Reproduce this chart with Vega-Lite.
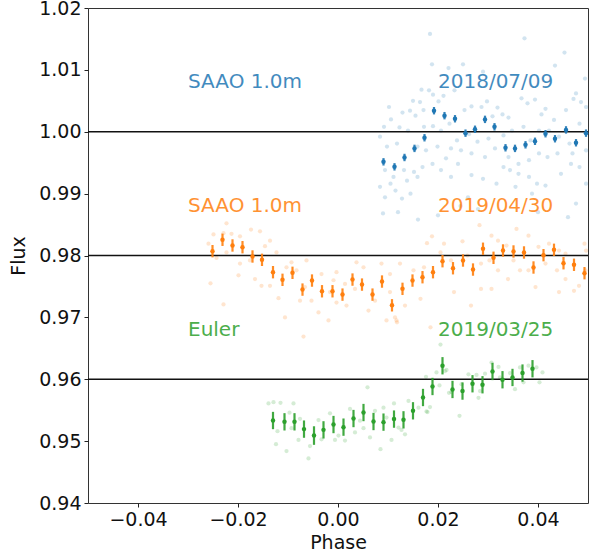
{
  "$schema": "https://vega.github.io/schema/vega-lite/v6.json",
  "width": 500,
  "height": 495,
  "autosize": "none",
  "padding": {"left": 88, "top": 8, "right": 2, "bottom": 57},
  "background": "white",
  "config": {
    "font": "DejaVu Sans",
    "view": {"stroke": "#333333", "strokeWidth": 1},
    "axis": {"domain": false, "grid": false, "tickColor": "#222222", "tickSize": 4, "labelPadding": 3, "labelFontSize": 19, "labelColor": "#111111", "titleFontSize": 19, "titleFontWeight": "normal", "titleColor": "#111111", "labelFont": "DejaVu Sans", "titleFont": "DejaVu Sans"}
  },
  "datasets": {
    "binned": [
      {"s": "SAAO 2018/07/09", "p": 0.0091, "f": 0.99514, "e": 0.0006},
      {"s": "SAAO 2018/07/09", "p": 0.0113, "f": 0.99433, "e": 0.0006},
      {"s": "SAAO 2018/07/09", "p": 0.0133, "f": 0.99584, "e": 0.0006},
      {"s": "SAAO 2018/07/09", "p": 0.0153, "f": 0.99731, "e": 0.0006},
      {"s": "SAAO 2018/07/09", "p": 0.0173, "f": 0.99903, "e": 0.0006},
      {"s": "SAAO 2018/07/09", "p": 0.0192, "f": 1.0034, "e": 0.0006},
      {"s": "SAAO 2018/07/09", "p": 0.0213, "f": 1.0026, "e": 0.0006},
      {"s": "SAAO 2018/07/09", "p": 0.0234, "f": 1.0021, "e": 0.0006},
      {"s": "SAAO 2018/07/09", "p": 0.0255, "f": 0.99977, "e": 0.0006},
      {"s": "SAAO 2018/07/09", "p": 0.0274, "f": 1.0004, "e": 0.0006},
      {"s": "SAAO 2018/07/09", "p": 0.0294, "f": 1.0020, "e": 0.0006},
      {"s": "SAAO 2018/07/09", "p": 0.0313, "f": 1.0008, "e": 0.0006},
      {"s": "SAAO 2018/07/09", "p": 0.0335, "f": 0.99741, "e": 0.0006},
      {"s": "SAAO 2018/07/09", "p": 0.0354, "f": 0.99731, "e": 0.0006},
      {"s": "SAAO 2018/07/09", "p": 0.0375, "f": 0.99789, "e": 0.0006},
      {"s": "SAAO 2018/07/09", "p": 0.0394, "f": 0.99846, "e": 0.0006},
      {"s": "SAAO 2018/07/09", "p": 0.0415, "f": 0.99968, "e": 0.0006},
      {"s": "SAAO 2018/07/09", "p": 0.0434, "f": 0.99887, "e": 0.0006},
      {"s": "SAAO 2018/07/09", "p": 0.0456, "f": 1.0003, "e": 0.0006},
      {"s": "SAAO 2018/07/09", "p": 0.0476, "f": 0.99822, "e": 0.0006},
      {"s": "SAAO 2018/07/09", "p": 0.0496, "f": 0.99977, "e": 0.0006},
      {"s": "SAAO 2019/04/30", "p": -0.0251, "f": 0.98070, "e": 0.001},
      {"s": "SAAO 2019/04/30", "p": -0.0231, "f": 0.98254, "e": 0.001},
      {"s": "SAAO 2019/04/30", "p": -0.0211, "f": 0.98162, "e": 0.001},
      {"s": "SAAO 2019/04/30", "p": -0.0191, "f": 0.98134, "e": 0.001},
      {"s": "SAAO 2019/04/30", "p": -0.0171, "f": 0.97984, "e": 0.001},
      {"s": "SAAO 2019/04/30", "p": -0.0152, "f": 0.97930, "e": 0.001},
      {"s": "SAAO 2019/04/30", "p": -0.0130, "f": 0.97730, "e": 0.001},
      {"s": "SAAO 2019/04/30", "p": -0.0111, "f": 0.97607, "e": 0.001},
      {"s": "SAAO 2019/04/30", "p": -0.0091, "f": 0.97720, "e": 0.001},
      {"s": "SAAO 2019/04/30", "p": -0.0071, "f": 0.97449, "e": 0.001},
      {"s": "SAAO 2019/04/30", "p": -0.0052, "f": 0.97595, "e": 0.001},
      {"s": "SAAO 2019/04/30", "p": -0.0032, "f": 0.97422, "e": 0.001},
      {"s": "SAAO 2019/04/30", "p": -0.0011, "f": 0.97422, "e": 0.001},
      {"s": "SAAO 2019/04/30", "p": 0.0009, "f": 0.97368, "e": 0.001},
      {"s": "SAAO 2019/04/30", "p": 0.0029, "f": 0.97611, "e": 0.001},
      {"s": "SAAO 2019/04/30", "p": 0.0048, "f": 0.97530, "e": 0.001},
      {"s": "SAAO 2019/04/30", "p": 0.0069, "f": 0.97368, "e": 0.001},
      {"s": "SAAO 2019/04/30", "p": 0.0088, "f": 0.97579, "e": 0.001},
      {"s": "SAAO 2019/04/30", "p": 0.0108, "f": 0.97195, "e": 0.001},
      {"s": "SAAO 2019/04/30", "p": 0.0129, "f": 0.97461, "e": 0.001},
      {"s": "SAAO 2019/04/30", "p": 0.0149, "f": 0.97595, "e": 0.001},
      {"s": "SAAO 2019/04/30", "p": 0.0169, "f": 0.97649, "e": 0.001},
      {"s": "SAAO 2019/04/30", "p": 0.0190, "f": 0.97730, "e": 0.001},
      {"s": "SAAO 2019/04/30", "p": 0.0209, "f": 0.97908, "e": 0.001},
      {"s": "SAAO 2019/04/30", "p": 0.0230, "f": 0.97794, "e": 0.001},
      {"s": "SAAO 2019/04/30", "p": 0.0250, "f": 0.97919, "e": 0.001},
      {"s": "SAAO 2019/04/30", "p": 0.0270, "f": 0.97773, "e": 0.001},
      {"s": "SAAO 2019/04/30", "p": 0.0290, "f": 0.98109, "e": 0.001},
      {"s": "SAAO 2019/04/30", "p": 0.0311, "f": 0.97963, "e": 0.001},
      {"s": "SAAO 2019/04/30", "p": 0.0330, "f": 0.98081, "e": 0.001},
      {"s": "SAAO 2019/04/30", "p": 0.0351, "f": 0.98065, "e": 0.001},
      {"s": "SAAO 2019/04/30", "p": 0.0372, "f": 0.98049, "e": 0.001},
      {"s": "SAAO 2019/04/30", "p": 0.0391, "f": 0.97806, "e": 0.001},
      {"s": "SAAO 2019/04/30", "p": 0.0411, "f": 0.98005, "e": 0.001},
      {"s": "SAAO 2019/04/30", "p": 0.0432, "f": 0.98092, "e": 0.001},
      {"s": "SAAO 2019/04/30", "p": 0.0451, "f": 0.97875, "e": 0.001},
      {"s": "SAAO 2019/04/30", "p": 0.0472, "f": 0.97850, "e": 0.001},
      {"s": "SAAO 2019/04/30", "p": 0.0493, "f": 0.97714, "e": 0.001},
      {"s": "Euler 2019/03/25", "p": -0.0130, "f": 0.95333, "e": 0.0014},
      {"s": "Euler 2019/03/25", "p": -0.0107, "f": 0.95312, "e": 0.0014},
      {"s": "Euler 2019/03/25", "p": -0.0087, "f": 0.95312, "e": 0.0014},
      {"s": "Euler 2019/03/25", "p": -0.0068, "f": 0.95194, "e": 0.0014},
      {"s": "Euler 2019/03/25", "p": -0.0048, "f": 0.95090, "e": 0.0015},
      {"s": "Euler 2019/03/25", "p": -0.0029, "f": 0.95182, "e": 0.0014},
      {"s": "Euler 2019/03/25", "p": -0.0009, "f": 0.95268, "e": 0.0014},
      {"s": "Euler 2019/03/25", "p": 0.0011, "f": 0.95226, "e": 0.0014},
      {"s": "Euler 2019/03/25", "p": 0.0031, "f": 0.95365, "e": 0.0014},
      {"s": "Euler 2019/03/25", "p": 0.0051, "f": 0.95462, "e": 0.0014},
      {"s": "Euler 2019/03/25", "p": 0.0071, "f": 0.95317, "e": 0.0014},
      {"s": "Euler 2019/03/25", "p": 0.0091, "f": 0.95307, "e": 0.0014},
      {"s": "Euler 2019/03/25", "p": 0.0112, "f": 0.95356, "e": 0.0014},
      {"s": "Euler 2019/03/25", "p": 0.0131, "f": 0.95344, "e": 0.0014},
      {"s": "Euler 2019/03/25", "p": 0.0150, "f": 0.95490, "e": 0.0014},
      {"s": "Euler 2019/03/25", "p": 0.0170, "f": 0.95705, "e": 0.0014},
      {"s": "Euler 2019/03/25", "p": 0.0189, "f": 0.95883, "e": 0.0014},
      {"s": "Euler 2019/03/25", "p": 0.0209, "f": 0.96218, "e": 0.0014},
      {"s": "Euler 2019/03/25", "p": 0.0229, "f": 0.95835, "e": 0.0014},
      {"s": "Euler 2019/03/25", "p": 0.0249, "f": 0.95809, "e": 0.0014},
      {"s": "Euler 2019/03/25", "p": 0.0269, "f": 0.95927, "e": 0.0014},
      {"s": "Euler 2019/03/25", "p": 0.0289, "f": 0.95911, "e": 0.0014},
      {"s": "Euler 2019/03/25", "p": 0.0309, "f": 0.96126, "e": 0.0014},
      {"s": "Euler 2019/03/25", "p": 0.0329, "f": 0.95992, "e": 0.0014},
      {"s": "Euler 2019/03/25", "p": 0.0349, "f": 0.96029, "e": 0.0014},
      {"s": "Euler 2019/03/25", "p": 0.0369, "f": 0.96100, "e": 0.0014},
      {"s": "Euler 2019/03/25", "p": 0.0389, "f": 0.96170, "e": 0.0014}
    ],
    "raw": [
      {"s": "SAAO 2018/07/09", "p": 0.0184, "f": 1.0158},
      {"s": "SAAO 2018/07/09", "p": 0.0373, "f": 1.0151},
      {"s": "SAAO 2018/07/09", "p": 0.0453, "f": 1.0128},
      {"s": "SAAO 2018/07/09", "p": 0.0188, "f": 1.0109},
      {"s": "SAAO 2018/07/09", "p": 0.0250, "f": 1.0109},
      {"s": "SAAO 2018/07/09", "p": 0.0434, "f": 1.0107},
      {"s": "SAAO 2018/07/09", "p": 0.0221, "f": 1.0103},
      {"s": "SAAO 2018/07/09", "p": 0.0290, "f": 1.0097},
      {"s": "SAAO 2018/07/09", "p": 0.0494, "f": 1.0086},
      {"s": "SAAO 2018/07/09", "p": 0.0167, "f": 1.0068},
      {"s": "SAAO 2018/07/09", "p": 0.0182, "f": 1.0067},
      {"s": "SAAO 2018/07/09", "p": 0.0233, "f": 1.0067},
      {"s": "SAAO 2018/07/09", "p": 0.0476, "f": 1.0062},
      {"s": "SAAO 2018/07/09", "p": 0.0150, "f": 1.0050},
      {"s": "SAAO 2018/07/09", "p": 0.0164, "f": 1.0048},
      {"s": "SAAO 2018/07/09", "p": 0.0201, "f": 1.0049},
      {"s": "SAAO 2018/07/09", "p": 0.0190, "f": 1.0060},
      {"s": "SAAO 2018/07/09", "p": 0.0211, "f": 1.0058},
      {"s": "SAAO 2018/07/09", "p": 0.0102, "f": 1.0040},
      {"s": "SAAO 2018/07/09", "p": 0.0129, "f": 1.0031},
      {"s": "SAAO 2018/07/09", "p": 0.0144, "f": 1.0034},
      {"s": "SAAO 2018/07/09", "p": 0.0155, "f": 1.0026},
      {"s": "SAAO 2018/07/09", "p": 0.0171, "f": 1.0035},
      {"s": "SAAO 2018/07/09", "p": 0.0253, "f": 1.0035},
      {"s": "SAAO 2018/07/09", "p": 0.0267, "f": 1.0041},
      {"s": "SAAO 2018/07/09", "p": 0.0287, "f": 1.0040},
      {"s": "SAAO 2018/07/09", "p": 0.0298, "f": 1.0049},
      {"s": "SAAO 2018/07/09", "p": 0.0319, "f": 1.0039},
      {"s": "SAAO 2018/07/09", "p": 0.0309, "f": 1.0025},
      {"s": "SAAO 2018/07/09", "p": 0.0329, "f": 1.0028},
      {"s": "SAAO 2018/07/09", "p": 0.0341, "f": 1.0023},
      {"s": "SAAO 2018/07/09", "p": 0.0367, "f": 1.0054},
      {"s": "SAAO 2018/07/09", "p": 0.0379, "f": 1.0046},
      {"s": "SAAO 2018/07/09", "p": 0.0394, "f": 1.0052},
      {"s": "SAAO 2018/07/09", "p": 0.0407, "f": 1.0028},
      {"s": "SAAO 2018/07/09", "p": 0.0415, "f": 1.0037},
      {"s": "SAAO 2018/07/09", "p": 0.0432, "f": 1.0019},
      {"s": "SAAO 2018/07/09", "p": 0.0456, "f": 1.0035},
      {"s": "SAAO 2018/07/09", "p": 0.0471, "f": 1.0053},
      {"s": "SAAO 2018/07/09", "p": 0.0486, "f": 1.0048},
      {"s": "SAAO 2018/07/09", "p": 0.0496, "f": 1.0040},
      {"s": "SAAO 2018/07/09", "p": 0.0092, "f": 1.0008},
      {"s": "SAAO 2018/07/09", "p": 0.0106, "f": 1.0020},
      {"s": "SAAO 2018/07/09", "p": 0.0123, "f": 1.0007},
      {"s": "SAAO 2018/07/09", "p": 0.0140, "f": 1.0002},
      {"s": "SAAO 2018/07/09", "p": 0.0172, "f": 1.0008},
      {"s": "SAAO 2018/07/09", "p": 0.0190, "f": 1.0009},
      {"s": "SAAO 2018/07/09", "p": 0.0206, "f": 1.0002},
      {"s": "SAAO 2018/07/09", "p": 0.0223, "f": 1.0013},
      {"s": "SAAO 2018/07/09", "p": 0.0238, "f": 0.9986},
      {"s": "SAAO 2018/07/09", "p": 0.0262, "f": 0.9996},
      {"s": "SAAO 2018/07/09", "p": 0.0279, "f": 0.9984},
      {"s": "SAAO 2018/07/09", "p": 0.0301, "f": 0.9989},
      {"s": "SAAO 2018/07/09", "p": 0.0331, "f": 0.9994},
      {"s": "SAAO 2018/07/09", "p": 0.0348, "f": 1.0002},
      {"s": "SAAO 2018/07/09", "p": 0.0371, "f": 1.0008},
      {"s": "SAAO 2018/07/09", "p": 0.0385, "f": 0.9986},
      {"s": "SAAO 2018/07/09", "p": 0.0402, "f": 1.0002},
      {"s": "SAAO 2018/07/09", "p": 0.0422, "f": 1.0002},
      {"s": "SAAO 2018/07/09", "p": 0.0442, "f": 0.9992},
      {"s": "SAAO 2018/07/09", "p": 0.0463, "f": 0.9981},
      {"s": "SAAO 2018/07/09", "p": 0.0483, "f": 1.0013},
      {"s": "SAAO 2018/07/09", "p": 0.0084, "f": 0.9992},
      {"s": "SAAO 2018/07/09", "p": 0.0098, "f": 0.9976},
      {"s": "SAAO 2018/07/09", "p": 0.0118, "f": 0.9981},
      {"s": "SAAO 2018/07/09", "p": 0.0159, "f": 0.9976},
      {"s": "SAAO 2018/07/09", "p": 0.0176, "f": 0.9970},
      {"s": "SAAO 2018/07/09", "p": 0.0199, "f": 0.9976},
      {"s": "SAAO 2018/07/09", "p": 0.0226, "f": 0.9973},
      {"s": "SAAO 2018/07/09", "p": 0.0246, "f": 0.9970},
      {"s": "SAAO 2018/07/09", "p": 0.0267, "f": 0.9965},
      {"s": "SAAO 2018/07/09", "p": 0.0294, "f": 0.9959},
      {"s": "SAAO 2018/07/09", "p": 0.0314, "f": 0.9973},
      {"s": "SAAO 2018/07/09", "p": 0.0341, "f": 0.9959},
      {"s": "SAAO 2018/07/09", "p": 0.0361, "f": 0.9948},
      {"s": "SAAO 2018/07/09", "p": 0.0382, "f": 0.9954},
      {"s": "SAAO 2018/07/09", "p": 0.0402, "f": 0.9965},
      {"s": "SAAO 2018/07/09", "p": 0.0419, "f": 0.9959},
      {"s": "SAAO 2018/07/09", "p": 0.0439, "f": 0.9965},
      {"s": "SAAO 2018/07/09", "p": 0.0469, "f": 0.9965},
      {"s": "SAAO 2018/07/09", "p": 0.0496, "f": 0.9970},
      {"s": "SAAO 2018/07/09", "p": 0.0094, "f": 0.9938},
      {"s": "SAAO 2018/07/09", "p": 0.0111, "f": 0.9927},
      {"s": "SAAO 2018/07/09", "p": 0.0132, "f": 0.9938},
      {"s": "SAAO 2018/07/09", "p": 0.0152, "f": 0.9935},
      {"s": "SAAO 2018/07/09", "p": 0.0169, "f": 0.9943},
      {"s": "SAAO 2018/07/09", "p": 0.0084, "f": 0.9911},
      {"s": "SAAO 2018/07/09", "p": 0.0105, "f": 0.9916},
      {"s": "SAAO 2018/07/09", "p": 0.0115, "f": 0.9905},
      {"s": "SAAO 2018/07/09", "p": 0.0138, "f": 0.9921},
      {"s": "SAAO 2018/07/09", "p": 0.0159, "f": 0.9927},
      {"s": "SAAO 2018/07/09", "p": 0.0206, "f": 0.9938},
      {"s": "SAAO 2018/07/09", "p": 0.0226, "f": 0.9927},
      {"s": "SAAO 2018/07/09", "p": 0.0267, "f": 0.9930},
      {"s": "SAAO 2018/07/09", "p": 0.0290, "f": 0.9924},
      {"s": "SAAO 2018/07/09", "p": 0.0317, "f": 0.9916},
      {"s": "SAAO 2018/07/09", "p": 0.0344, "f": 0.9938},
      {"s": "SAAO 2018/07/09", "p": 0.0361, "f": 0.9932},
      {"s": "SAAO 2018/07/09", "p": 0.0382, "f": 0.9927},
      {"s": "SAAO 2018/07/09", "p": 0.0398, "f": 0.9916},
      {"s": "SAAO 2018/07/09", "p": 0.0415, "f": 0.9913},
      {"s": "SAAO 2018/07/09", "p": 0.0446, "f": 0.9932},
      {"s": "SAAO 2018/07/09", "p": 0.0466, "f": 0.9948},
      {"s": "SAAO 2018/07/09", "p": 0.0483, "f": 0.9943},
      {"s": "SAAO 2018/07/09", "p": 0.0094, "f": 0.9894},
      {"s": "SAAO 2018/07/09", "p": 0.0128, "f": 0.9892},
      {"s": "SAAO 2018/07/09", "p": 0.0145, "f": 0.9900},
      {"s": "SAAO 2018/07/09", "p": 0.0260, "f": 0.9894},
      {"s": "SAAO 2018/07/09", "p": 0.0476, "f": 0.9884},
      {"s": "SAAO 2018/07/09", "p": 0.0388, "f": 0.9900},
      {"s": "SAAO 2018/07/09", "p": 0.0355, "f": 0.9911},
      {"s": "SAAO 2018/07/09", "p": 0.0496, "f": 0.9916},
      {"s": "SAAO 2018/07/09", "p": 0.0331, "f": 0.9943},
      {"s": "SAAO 2018/07/09", "p": 0.0240, "f": 0.9948},
      {"s": "SAAO 2018/07/09", "p": 0.0189, "f": 0.9948},
      {"s": "SAAO 2018/07/09", "p": 0.0216, "f": 0.9957},
      {"s": "SAAO 2018/07/09", "p": 0.0120, "f": 0.9870},
      {"s": "SAAO 2018/07/09", "p": 0.0160, "f": 0.9858},
      {"s": "SAAO 2018/07/09", "p": 0.0200, "f": 0.9865},
      {"s": "SAAO 2018/07/09", "p": 0.0280, "f": 0.9875},
      {"s": "SAAO 2018/07/09", "p": 0.0400, "f": 0.9870},
      {"s": "SAAO 2018/07/09", "p": 0.0460, "f": 0.9862},
      {"s": "SAAO 2018/07/09", "p": 0.0090, "f": 0.9868},
      {"s": "SAAO 2018/07/09", "p": 0.0245, "f": 0.9880},
      {"s": "SAAO 2019/04/30", "p": -0.0223, "f": 0.9852},
      {"s": "SAAO 2019/04/30", "p": -0.0249, "f": 0.9834},
      {"s": "SAAO 2019/04/30", "p": -0.0259, "f": 0.9819},
      {"s": "SAAO 2019/04/30", "p": -0.0229, "f": 0.9836},
      {"s": "SAAO 2019/04/30", "p": -0.0213, "f": 0.9835},
      {"s": "SAAO 2019/04/30", "p": -0.0196, "f": 0.9831},
      {"s": "SAAO 2019/04/30", "p": -0.0174, "f": 0.9842},
      {"s": "SAAO 2019/04/30", "p": -0.0156, "f": 0.9839},
      {"s": "SAAO 2019/04/30", "p": -0.0136, "f": 0.9824},
      {"s": "SAAO 2019/04/30", "p": -0.0243, "f": 0.9796},
      {"s": "SAAO 2019/04/30", "p": -0.0223, "f": 0.9805},
      {"s": "SAAO 2019/04/30", "p": -0.0196, "f": 0.9787},
      {"s": "SAAO 2019/04/30", "p": -0.0176, "f": 0.9792},
      {"s": "SAAO 2019/04/30", "p": -0.0146, "f": 0.9815},
      {"s": "SAAO 2019/04/30", "p": -0.0123, "f": 0.9805},
      {"s": "SAAO 2019/04/30", "p": -0.0093, "f": 0.9789},
      {"s": "SAAO 2019/04/30", "p": -0.0083, "f": 0.9776},
      {"s": "SAAO 2019/04/30", "p": -0.0103, "f": 0.9781},
      {"s": "SAAO 2019/04/30", "p": -0.0063, "f": 0.9792},
      {"s": "SAAO 2019/04/30", "p": -0.0033, "f": 0.9770},
      {"s": "SAAO 2019/04/30", "p": -0.0003, "f": 0.9773},
      {"s": "SAAO 2019/04/30", "p": 0.0014, "f": 0.9754},
      {"s": "SAAO 2019/04/30", "p": 0.0037, "f": 0.9789},
      {"s": "SAAO 2019/04/30", "p": 0.0051, "f": 0.9781},
      {"s": "SAAO 2019/04/30", "p": 0.0087, "f": 0.9787},
      {"s": "SAAO 2019/04/30", "p": 0.0104, "f": 0.9741},
      {"s": "SAAO 2019/04/30", "p": 0.0117, "f": 0.9695},
      {"s": "SAAO 2019/04/30", "p": -0.0255, "f": 0.9755},
      {"s": "SAAO 2019/04/30", "p": -0.0229, "f": 0.9721},
      {"s": "SAAO 2019/04/30", "p": -0.0199, "f": 0.9768},
      {"s": "SAAO 2019/04/30", "p": -0.0166, "f": 0.9762},
      {"s": "SAAO 2019/04/30", "p": -0.0153, "f": 0.9751},
      {"s": "SAAO 2019/04/30", "p": -0.0136, "f": 0.9751},
      {"s": "SAAO 2019/04/30", "p": -0.0119, "f": 0.9731},
      {"s": "SAAO 2019/04/30", "p": -0.0106, "f": 0.9700},
      {"s": "SAAO 2019/04/30", "p": -0.0076, "f": 0.9727},
      {"s": "SAAO 2019/04/30", "p": -0.0066, "f": 0.9749},
      {"s": "SAAO 2019/04/30", "p": -0.0053, "f": 0.9727},
      {"s": "SAAO 2019/04/30", "p": -0.0039, "f": 0.9708},
      {"s": "SAAO 2019/04/30", "p": -0.0019, "f": 0.9695},
      {"s": "SAAO 2019/04/30", "p": -0.0003, "f": 0.9724},
      {"s": "SAAO 2019/04/30", "p": 0.0017, "f": 0.9719},
      {"s": "SAAO 2019/04/30", "p": 0.0034, "f": 0.9746},
      {"s": "SAAO 2019/04/30", "p": 0.0061, "f": 0.9711},
      {"s": "SAAO 2019/04/30", "p": 0.0074, "f": 0.9727},
      {"s": "SAAO 2019/04/30", "p": 0.0097, "f": 0.9695},
      {"s": "SAAO 2019/04/30", "p": -0.0069, "f": 0.9669},
      {"s": "SAAO 2019/04/30", "p": -0.0009, "f": 0.9760},
      {"s": "SAAO 2019/04/30", "p": -0.0016, "f": 0.9741},
      {"s": "SAAO 2019/04/30", "p": 0.0104, "f": 0.9770},
      {"s": "SAAO 2019/04/30", "p": 0.0188, "f": 0.9831},
      {"s": "SAAO 2019/04/30", "p": 0.0178, "f": 0.9820},
      {"s": "SAAO 2019/04/30", "p": 0.0212, "f": 0.9819},
      {"s": "SAAO 2019/04/30", "p": 0.0249, "f": 0.9823},
      {"s": "SAAO 2019/04/30", "p": 0.0283, "f": 0.9849},
      {"s": "SAAO 2019/04/30", "p": 0.0307, "f": 0.9832},
      {"s": "SAAO 2019/04/30", "p": 0.0320, "f": 0.9824},
      {"s": "SAAO 2019/04/30", "p": 0.0337, "f": 0.9816},
      {"s": "SAAO 2019/04/30", "p": 0.0357, "f": 0.9843},
      {"s": "SAAO 2019/04/30", "p": 0.0381, "f": 0.9832},
      {"s": "SAAO 2019/04/30", "p": 0.0401, "f": 0.9814},
      {"s": "SAAO 2019/04/30", "p": 0.0422, "f": 0.9819},
      {"s": "SAAO 2019/04/30", "p": 0.0442, "f": 0.9808},
      {"s": "SAAO 2019/04/30", "p": 0.0493, "f": 0.9819},
      {"s": "SAAO 2019/04/30", "p": 0.0124, "f": 0.9787},
      {"s": "SAAO 2019/04/30", "p": 0.0151, "f": 0.9776},
      {"s": "SAAO 2019/04/30", "p": 0.0172, "f": 0.9781},
      {"s": "SAAO 2019/04/30", "p": 0.0205, "f": 0.9805},
      {"s": "SAAO 2019/04/30", "p": 0.0226, "f": 0.9792},
      {"s": "SAAO 2019/04/30", "p": 0.0259, "f": 0.9800},
      {"s": "SAAO 2019/04/30", "p": 0.0286, "f": 0.9787},
      {"s": "SAAO 2019/04/30", "p": 0.0303, "f": 0.9792},
      {"s": "SAAO 2019/04/30", "p": 0.0320, "f": 0.9776},
      {"s": "SAAO 2019/04/30", "p": 0.0340, "f": 0.9762},
      {"s": "SAAO 2019/04/30", "p": 0.0364, "f": 0.9776},
      {"s": "SAAO 2019/04/30", "p": 0.0381, "f": 0.9776},
      {"s": "SAAO 2019/04/30", "p": 0.0415, "f": 0.9787},
      {"s": "SAAO 2019/04/30", "p": 0.0438, "f": 0.9776},
      {"s": "SAAO 2019/04/30", "p": 0.0455, "f": 0.9762},
      {"s": "SAAO 2019/04/30", "p": 0.0472, "f": 0.9743},
      {"s": "SAAO 2019/04/30", "p": 0.0482, "f": 0.9751},
      {"s": "SAAO 2019/04/30", "p": 0.0495, "f": 0.9776},
      {"s": "SAAO 2019/04/30", "p": 0.0134, "f": 0.9719},
      {"s": "SAAO 2019/04/30", "p": 0.0165, "f": 0.9730},
      {"s": "SAAO 2019/04/30", "p": 0.0114, "f": 0.9700},
      {"s": "SAAO 2019/04/30", "p": 0.0118, "f": 0.9692},
      {"s": "SAAO 2019/04/30", "p": 0.0232, "f": 0.9741},
      {"s": "SAAO 2019/04/30", "p": 0.0266, "f": 0.9719},
      {"s": "SAAO 2019/04/30", "p": 0.0307, "f": 0.9746},
      {"s": "SAAO 2019/04/30", "p": 0.0395, "f": 0.9749},
      {"s": "SAAO 2019/04/30", "p": 0.0442, "f": 0.9741},
      {"s": "SAAO 2019/04/30", "p": 0.0185, "f": 0.9684},
      {"s": "SAAO 2019/04/30", "p": 0.0286, "f": 0.9746},
      {"s": "SAAO 2019/04/30", "p": 0.0351, "f": 0.9792},
      {"s": "SAAO 2019/04/30", "p": 0.0455, "f": 0.9803},
      {"s": "SAAO 2019/04/30", "p": 0.0496, "f": 0.9808},
      {"s": "Euler 2019/03/25", "p": -0.0139, "f": 0.9561},
      {"s": "Euler 2019/03/25", "p": -0.0129, "f": 0.9563},
      {"s": "Euler 2019/03/25", "p": -0.0115, "f": 0.9562},
      {"s": "Euler 2019/03/25", "p": -0.0089, "f": 0.9561},
      {"s": "Euler 2019/03/25", "p": -0.0121, "f": 0.9516},
      {"s": "Euler 2019/03/25", "p": -0.0124, "f": 0.9495},
      {"s": "Euler 2019/03/25", "p": -0.0103, "f": 0.9484},
      {"s": "Euler 2019/03/25", "p": -0.0097, "f": 0.9546},
      {"s": "Euler 2019/03/25", "p": -0.0079, "f": 0.9502},
      {"s": "Euler 2019/03/25", "p": -0.0076, "f": 0.9536},
      {"s": "Euler 2019/03/25", "p": -0.0059, "f": 0.9472},
      {"s": "Euler 2019/03/25", "p": -0.0056, "f": 0.9492},
      {"s": "Euler 2019/03/25", "p": -0.0039, "f": 0.9534},
      {"s": "Euler 2019/03/25", "p": -0.0033, "f": 0.9503},
      {"s": "Euler 2019/03/25", "p": -0.0016, "f": 0.9545},
      {"s": "Euler 2019/03/25", "p": -0.0006, "f": 0.9502},
      {"s": "Euler 2019/03/25", "p": 0.0001, "f": 0.9509},
      {"s": "Euler 2019/03/25", "p": 0.0024, "f": 0.9552},
      {"s": "Euler 2019/03/25", "p": 0.0034, "f": 0.9514},
      {"s": "Euler 2019/03/25", "p": 0.0044, "f": 0.9533},
      {"s": "Euler 2019/03/25", "p": 0.0051, "f": 0.9521},
      {"s": "Euler 2019/03/25", "p": 0.0059, "f": 0.9587},
      {"s": "Euler 2019/03/25", "p": 0.0064, "f": 0.9506},
      {"s": "Euler 2019/03/25", "p": 0.0074, "f": 0.9549},
      {"s": "Euler 2019/03/25", "p": 0.0085, "f": 0.9487},
      {"s": "Euler 2019/03/25", "p": 0.0091, "f": 0.9554},
      {"s": "Euler 2019/03/25", "p": 0.0097, "f": 0.9538},
      {"s": "Euler 2019/03/25", "p": 0.0107, "f": 0.9502},
      {"s": "Euler 2019/03/25", "p": 0.0112, "f": 0.9561},
      {"s": "Euler 2019/03/25", "p": 0.0121, "f": 0.9522},
      {"s": "Euler 2019/03/25", "p": 0.0127, "f": 0.9518},
      {"s": "Euler 2019/03/25", "p": 0.0134, "f": 0.9511},
      {"s": "Euler 2019/03/25", "p": 0.0141, "f": 0.9565},
      {"s": "Euler 2019/03/25", "p": 0.0161, "f": 0.9554},
      {"s": "Euler 2019/03/25", "p": 0.0177, "f": 0.9548},
      {"s": "Euler 2019/03/25", "p": 0.0184, "f": 0.9555},
      {"s": "Euler 2019/03/25", "p": 0.0197, "f": 0.9611},
      {"s": "Euler 2019/03/25", "p": 0.0205, "f": 0.9656},
      {"s": "Euler 2019/03/25", "p": 0.0217, "f": 0.9615},
      {"s": "Euler 2019/03/25", "p": 0.0222, "f": 0.9578},
      {"s": "Euler 2019/03/25", "p": -0.0093, "f": 0.9521},
      {"s": "Euler 2019/03/25", "p": 0.0014, "f": 0.9501},
      {"s": "Euler 2019/03/25", "p": 0.0176, "f": 0.9604},
      {"s": "Euler 2019/03/25", "p": 0.0179, "f": 0.9547},
      {"s": "Euler 2019/03/25", "p": 0.0203, "f": 0.9590},
      {"s": "Euler 2019/03/25", "p": 0.0214, "f": 0.9613},
      {"s": "Euler 2019/03/25", "p": 0.0227, "f": 0.9579},
      {"s": "Euler 2019/03/25", "p": 0.0243, "f": 0.9541},
      {"s": "Euler 2019/03/25", "p": 0.0247, "f": 0.9592},
      {"s": "Euler 2019/03/25", "p": 0.0261, "f": 0.9608},
      {"s": "Euler 2019/03/25", "p": 0.0277, "f": 0.9607},
      {"s": "Euler 2019/03/25", "p": 0.0281, "f": 0.9570},
      {"s": "Euler 2019/03/25", "p": 0.0294, "f": 0.9609},
      {"s": "Euler 2019/03/25", "p": 0.0307, "f": 0.9627},
      {"s": "Euler 2019/03/25", "p": 0.0324, "f": 0.9603},
      {"s": "Euler 2019/03/25", "p": 0.0321, "f": 0.9620},
      {"s": "Euler 2019/03/25", "p": 0.0344, "f": 0.9610},
      {"s": "Euler 2019/03/25", "p": 0.0354, "f": 0.9584},
      {"s": "Euler 2019/03/25", "p": 0.0364, "f": 0.9619},
      {"s": "Euler 2019/03/25", "p": 0.0371, "f": 0.9595},
      {"s": "Euler 2019/03/25", "p": 0.0381, "f": 0.9622},
      {"s": "Euler 2019/03/25", "p": 0.0397, "f": 0.9619},
      {"s": "Euler 2019/03/25", "p": 0.0403, "f": 0.9595},
      {"s": "Euler 2019/03/25", "p": 0.0409, "f": 0.9611},
      {"s": "Euler 2019/03/25", "p": 0.0284, "f": 0.9581}
    ],
    "refs": [{"f": 1.0}, {"f": 0.98}, {"f": 0.96}],
    "labels": [
      {"s": "SAAO 2018/07/09", "t": "SAAO 1.0m", "p": -0.03, "f": 1.007},
      {"s": "SAAO 2018/07/09", "t": "2018/07/09", "p": 0.02, "f": 1.007},
      {"s": "SAAO 2019/04/30", "t": "SAAO 1.0m", "p": -0.03, "f": 0.987},
      {"s": "SAAO 2019/04/30", "t": "2019/04/30", "p": 0.02, "f": 0.987},
      {"s": "Euler 2019/03/25", "t": "Euler", "p": -0.03, "f": 0.967},
      {"s": "Euler 2019/03/25", "t": "2019/03/25", "p": 0.02, "f": 0.967}
    ]
  },
  "encoding": {
    "x": {"field": "p", "type": "quantitative", "title": "Phase",
      "scale": {"domain": [-0.05, 0.05], "nice": false, "zero": false},
      "axis": {"values": [-0.04, -0.02, 0, 0.02, 0.04], "format": ".2f", "titlePadding": 4}},
    "y": {"field": "f", "type": "quantitative", "title": "Flux",
      "scale": {"domain": [0.94, 1.02], "nice": false, "zero": false},
      "axis": {"values": [0.94, 0.95, 0.96, 0.97, 0.98, 0.99, 1.0, 1.01, 1.02], "format": ".2f", "titlePadding": 10}},
    "color": {"field": "s", "type": "nominal", "legend": null,
      "scale": {"domain": ["SAAO 2018/07/09", "SAAO 2019/04/30", "Euler 2019/03/25"], "range": ["#1f77b4", "#ff7f0e", "#2ca02c"]}}
  },
  "layer": [
    {"data": {"name": "raw"}, "mark": {"type": "circle", "size": 18, "opacity": 0.2, "clip": true}},
    {"data": {"name": "refs"}, "mark": {"type": "rule", "color": "#111111", "strokeWidth": 1.5},
      "encoding": {"x": null, "color": null, "y": {"field": "f", "type": "quantitative"}}},
    {"data": {"name": "binned"}, "mark": {"type": "errorbar", "thickness": 2.2, "opacity": 0.9},
      "encoding": {"yError": {"field": "e"}}},
    {"data": {"name": "binned"}, "mark": {"type": "circle", "size": 20, "opacity": 1}},
    {"data": {"name": "labels"}, "mark": {"type": "text", "align": "left", "baseline": "alphabetic", "fontSize": 20, "opacity": 0.85},
      "encoding": {"text": {"field": "t"}}}
  ]
}
